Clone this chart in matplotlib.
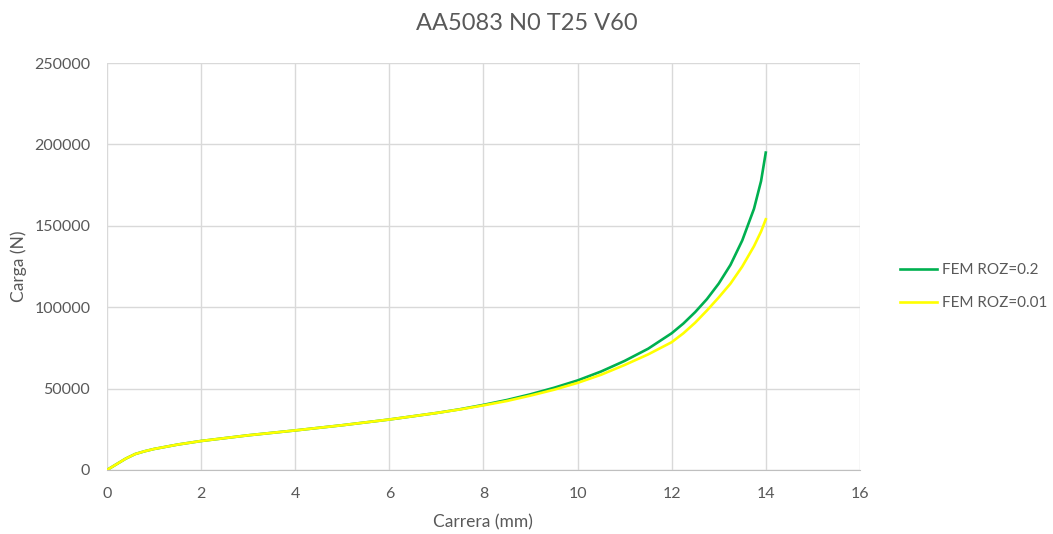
import matplotlib.pyplot as plt

plt.rcParams['font.family'] = ['Lato', 'DejaVu Sans']

carrera = [0, 0.2, 0.4, 0.6, 0.8, 1, 1.5, 2, 3, 4, 5, 6, 7, 7.5, 8, 8.5, 9, 9.5,
           10, 10.5, 11, 11.5, 12, 12.25, 12.5, 12.75, 13, 13.25, 13.5, 13.75,
           13.9, 14]
carga_roz02 = [0, 3500, 7000, 9800, 11500, 12900, 15600, 17800, 21300, 24300,
               27500, 31000, 35000, 37300, 40000, 43000, 46500, 50500,
               55000, 60500, 67000, 74500, 84000, 90000, 97000, 105000,
               114500, 126000, 141000, 160500, 177500, 195000]
carga_roz001 = [0, 3500, 7000, 9800, 11500, 12900, 15600, 17800, 21300, 24300,
                27500, 31000, 35000, 37200, 39700, 42400, 45700, 49300,
                53500, 58500, 64500, 71000, 78500, 84000, 90500, 98000,
                106000, 114500, 125000, 137500, 146500, 154000]

grey = '#595959'

fig = plt.figure(figsize=(10.53, 5.34), dpi=100)
ax = fig.add_axes([0.1016, 0.1199, 0.715, 0.762])

ax.plot(carrera, carga_roz02, color='#00B050', lw=1.9, label='FEM ROZ=0.2')
ax.plot(carrera, carga_roz001, color='#FFFF00', lw=1.9, label='FEM ROZ=0.01')

ax.set_xlim(0, 16)
ax.set_ylim(0, 250000)
ax.set_xticks(range(0, 17, 2))
ax.set_yticks(range(0, 250001, 50000))
ax.grid(True, color='#D9D9D9', lw=1)
ax.set_axisbelow(True)
for s in ['top', 'right', 'left']:
    ax.spines[s].set_visible(False)
ax.spines['bottom'].set_color('#BFBFBF')
ax.tick_params(length=0, colors=grey, labelsize=11.5, pad=12)

ax.set_xlabel('Carrera (mm)', color=grey, fontsize=12.5, labelpad=10)
ax.set_ylabel('Carga (N)', color=grey, fontsize=12.5, labelpad=5)
fig.suptitle('AA5083 N0 T25 V60', color=grey, fontsize=17, y=0.975)

leg = ax.legend(loc='center left', bbox_to_anchor=(1.035, 0.45), frameon=False,
                fontsize=11, handlelength=2.4, labelspacing=1.25, handletextpad=0.35)
for t in leg.get_texts():
    t.set_color(grey)

fig.savefig('out.png', dpi=100)
